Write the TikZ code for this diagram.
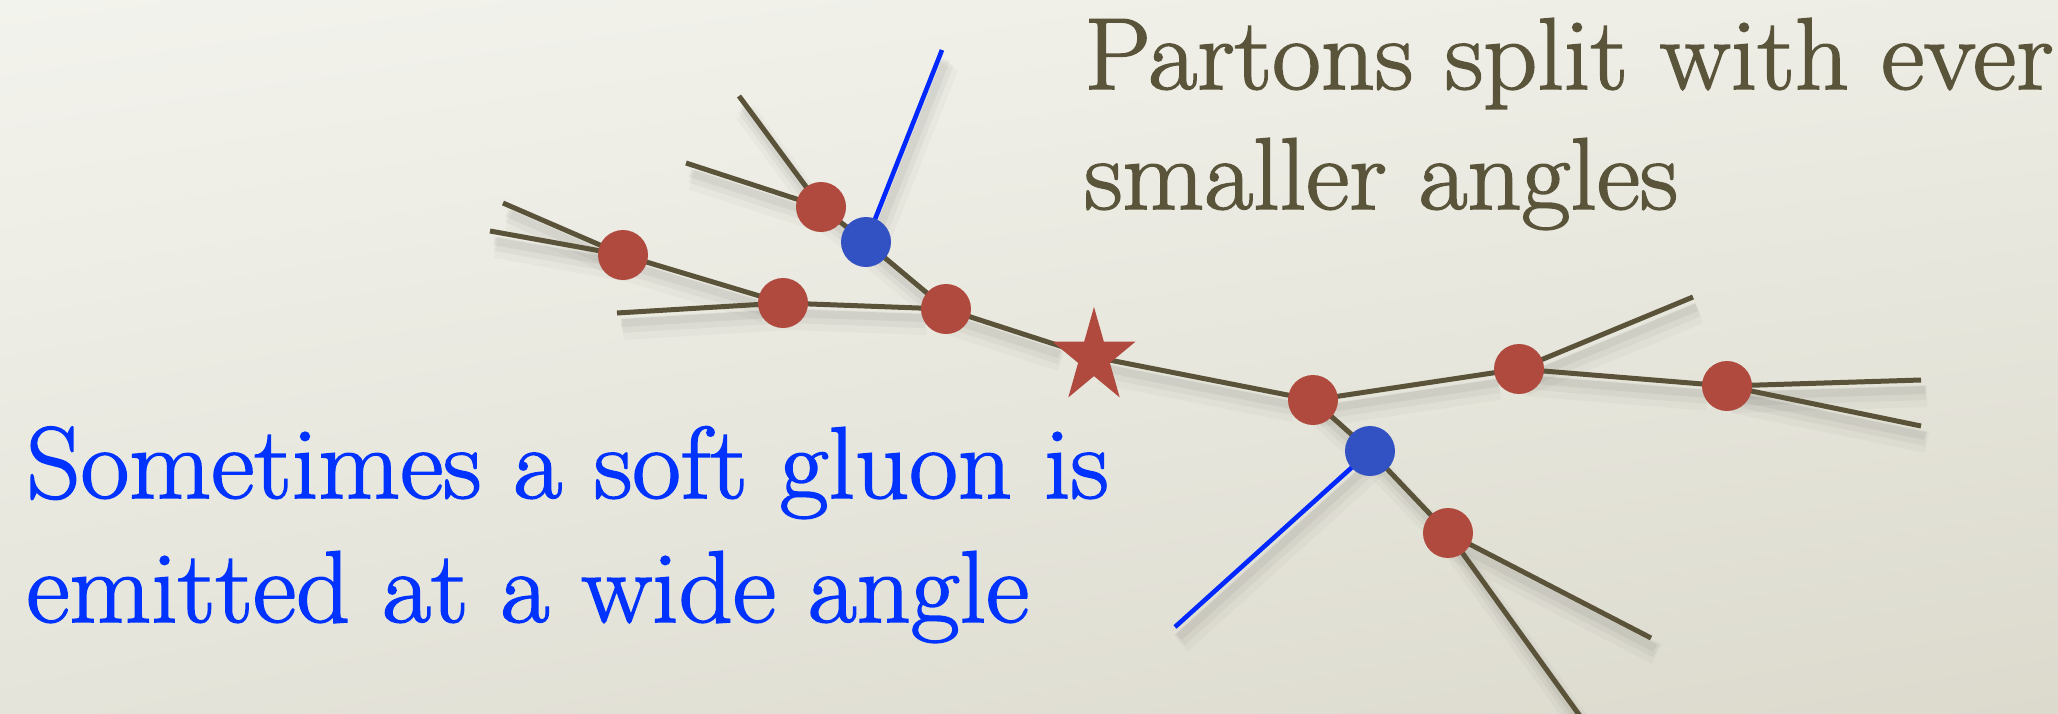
\documentclass[tikz,border=0pt]{standalone}
\usepackage{fontspec}
\newfontfamily\slidefont{Latin Modern Roman}[FakeBold=1.6,FakeStretch=1.04]
\usetikzlibrary{shapes.geometric,shadings}
\definecolor{bgTL}{RGB}{243,243,237}
\definecolor{bgTR}{RGB}{237,237,229}
\definecolor{bgBL}{RGB}{229,228,218}
\definecolor{bgBR}{RGB}{220,218,205}
\definecolor{stem}{RGB}{90,83,57}
\definecolor{redn}{RGB}{176,74,62}
\definecolor{bluen}{RGB}{50,82,196}
\definecolor{glu}{RGB}{0,40,255}
\definecolor{olivetxt}{RGB}{89,84,58}
\definecolor{bluetxt}{RGB}{0,51,255}
\pgfdeclarelayer{bg}
\pgfdeclarelayer{edges}
\pgfsetlayers{bg,edges,main}
\begin{document}
\begin{tikzpicture}[x=0.5pt,y=-0.5pt,
  rdot/.style={circle,fill=redn,minimum size=25pt,inner sep=0pt},
  bdot/.style={circle,fill=bluen,minimum size=25pt,inner sep=0pt},
  stemline/.style={draw=stem,line width=2.5pt},
  gluline/.style={draw=glu,line width=2.3pt},
  shadA/.style={draw=black,line width=11pt,opacity=0.025,transform canvas={shift={(3pt,-8pt)}}},
  shadB/.style={draw=black,line width=7pt,opacity=0.035,transform canvas={shift={(2.5pt,-6.5pt)}}},
  shadC/.style={draw=black,line width=4pt,opacity=0.045,transform canvas={shift={(2pt,-5pt)}}},
  toptxt/.style={anchor=base west,inner sep=0pt,text=olivetxt,font=\slidefont\fontsize{51}{60}\selectfont},
  bottxt/.style={anchor=base west,inner sep=0pt,text=bluetxt,font=\slidefont\fontsize{51}{60}\selectfont}
]
\useasboundingbox (0,0) rectangle (2058,713);
\begin{pgfonlayer}{bg}
\shade[upper left=bgTL,upper right=bgTR,lower left=bgBL,lower right=bgBR] (0,0) rectangle (2058,713);
\end{pgfonlayer}

% nodes
\node[rdot] (R1) at (821,207) {};
\node[bdot] (B1) at (866,242) {};
\node[rdot] (R2) at (623,255) {};
\node[rdot] (R3) at (783,303) {};
\node[rdot] (R4) at (946,309) {};
\begin{scope}[shift={(1094,357)},xscale=0.875]
\node[star,star points=5,star point ratio=2.618,minimum size=50pt,inner sep=0pt,fill=redn,transform shape] (S) at (0,0) {};
\end{scope}
\node[rdot] (R5) at (1313,400) {};
\node[bdot] (B2) at (1370,451) {};
\node[rdot] (R6) at (1448,533) {};
\node[rdot] (R7) at (1519,369) {};
\node[rdot] (R8) at (1727,386) {};

% free ends
\coordinate (e1) at (739,96);
\coordinate (e2) at (686,163);
\coordinate (e3) at (503,203);
\coordinate (e4) at (490,231);
\coordinate (e5) at (617,313);
\coordinate (e6) at (1693,297);
\coordinate (e7) at (1921,380);
\coordinate (e8) at (1921,426);
\coordinate (e9) at (1651,638);
\coordinate (e10) at (1580,716);
\coordinate (g1) at (942,50);
\coordinate (g2) at (1175,627);

\begin{pgfonlayer}{edges}
\foreach \a/\b in {R2/e3,R2/e4,R2/R3,R3/e5,R3/R4,R1/e1,R1/e2,R1/B1,B1/R4,R4/S,S/R5,R5/R7,R7/e6,R7/R8,R8/e7,R8/e8,R5/B2,B2/R6,R6/e9,R6/e10,B1/g1,B2/g2}{
  \path[shadA] (\a.center) -- (\b);
  \path[shadB] (\a.center) -- (\b);
  \path[shadC] (\a.center) -- (\b);
}
\foreach \a/\b in {R2/e3,R2/e4,R2/R3,R3/e5,R3/R4,R1/e1,R1/e2,R1/B1,B1/R4,R4/S,S/R5,R5/R7,R7/e6,R7/R8,R8/e7,R8/e8,R5/B2,B2/R6,R6/e9,R6/e10}{
  \path[stemline] (\a.center) -- (\b.center);
}
\path[gluline] (B1.center) -- (g1);
\path[gluline] (B2.center) -- (g2);
\end{pgfonlayer}

% texts
\node[toptxt] (t1) at (1084,89) {Partons split with ever};
\node[toptxt] (t2) at (1084,209) {smaller angles};
\node[bottxt] (t3) at (26,498) {Sometimes a soft gluon is};
\node[bottxt] (t4) at (26,622) {emitted at a wide angle};
\end{tikzpicture}
\end{document}
